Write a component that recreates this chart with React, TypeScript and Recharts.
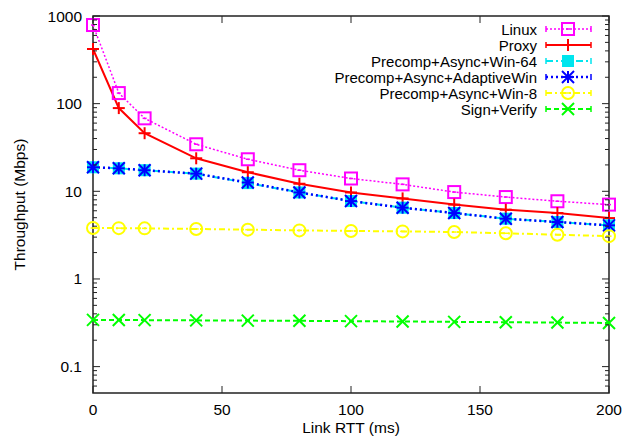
import React from "react";
import { LineChart, Line, XAxis, YAxis, Legend, ReferenceArea } from "recharts";

// link RTT (ms) and throughput (Mbps)
const rtt = [0, 10, 20, 40, 60, 80, 100, 120, 140, 160, 180, 200];
const linux = [789, 132, 68, 34.4, 23.2, 17.4, 14.0, 12.0, 9.8, 8.6, 7.7, 7.05];
const proxy = [420, 89, 46, 23.8, 16.5, 12.2, 9.7, 8.3, 7.05, 6.17, 5.65, 4.95];
const win64 = [18.8, 18.3, 17.4, 15.9, 12.4, 9.7, 7.74, 6.5, 5.65, 4.87, 4.46, 4.09];
const adaptive = [18.8, 18.3, 17.4, 15.9, 12.6, 9.7, 7.74, 6.5, 5.65, 4.87, 4.46, 4.09];
const win8 = [3.81, 3.8, 3.78, 3.72, 3.65, 3.58, 3.53, 3.49, 3.43, 3.32, 3.2, 3.08];
const signVerify = [0.341, 0.34, 0.339, 0.337, 0.335, 0.333, 0.33, 0.327, 0.324, 0.321, 0.318, 0.315];

const xTicks = [0, 50, 100, 150, 200];
const yMajor = [0.1, 1, 10, 100, 1000];
const yMajorLabels = ["0.1", "1", "10", "100", "1000"];
const yMinor = [
  0.06, 0.07, 0.08, 0.09,
  0.2, 0.3, 0.4, 0.5, 0.6, 0.7, 0.8, 0.9,
  2, 3, 4, 5, 6, 7, 8, 9,
  20, 30, 40, 50, 60, 70, 80, 90,
  200, 300, 400, 500, 600, 700, 800, 900,
];

const data = rtt.map((r, i) => ({
  rtt: r,
  linux: linux[i],
  proxy: proxy[i],
  win64: win64[i],
  adaptive: adaptive[i],
  win8: win8[i],
  sign: signVerify[i],
}));

type Shape = "box" | "plus" | "fbox" | "star" | "circle" | "cross";

const series: { key: string; name: string; color: string; dash?: string; width: number; shape: Shape }[] = [
  { key: "linux", name: "Linux", color: "#ff00ff", dash: "2 2", width: 1.5, shape: "box" },
  { key: "proxy", name: "Proxy", color: "#ff0000", width: 2, shape: "plus" },
  { key: "win64", name: "Precomp+Async+Win-64", color: "#00e5ee", dash: "7 3 2 3", width: 2, shape: "fbox" },
  { key: "adaptive", name: "Precomp+Async+AdaptiveWin", color: "#0000ff", dash: "2 3", width: 2.5, shape: "star" },
  { key: "win8", name: "Precomp+Async+Win-8", color: "#ffff00", dash: "6 3 2 3", width: 2, shape: "circle" },
  { key: "sign", name: "Sign+Verify", color: "#00ff00", dash: "5 3", width: 2, shape: "cross" },
];

const W = 625;
const H = 442;
const PL = 93;
const PR = 609;
const PT = 16;
const PB = 393;
const FONT = "'Liberation Sans', Arial, Helvetica, sans-serif";
const FS = 15.5;
const LEGEND_FS = 15;

function Marker({ shape, cx, cy, color }: { shape: Shape; cx: number; cy: number; color: string }) {
  const s = 6;
  switch (shape) {
    case "box":
      return (
        <g>
          <rect x={cx - s} y={cy - s} width={2 * s} height={2 * s} fill="none" stroke={color} strokeWidth={2} />
          <line x1={cx - 2} x2={cx + 2} y1={cy} y2={cy} stroke={color} strokeWidth={1.5} />
        </g>
      );
    case "fbox":
      return <rect x={cx - s} y={cy - s} width={2 * s} height={2 * s} fill={color} />;
    case "plus":
      return (
        <g stroke={color} strokeWidth={2}>
          <line x1={cx - s} x2={cx + s} y1={cy} y2={cy} />
          <line x1={cx} x2={cx} y1={cy - s} y2={cy + s} />
        </g>
      );
    case "star":
      return (
        <g stroke={color} strokeWidth={2}>
          <line x1={cx - s} x2={cx + s} y1={cy} y2={cy} />
          <line x1={cx} x2={cx} y1={cy - s} y2={cy + s} />
          <line x1={cx - s} x2={cx + s} y1={cy - s} y2={cy + s} />
          <line x1={cx - s} x2={cx + s} y1={cy + s} y2={cy - s} />
        </g>
      );
    case "circle":
      return (
        <g>
          <circle cx={cx} cy={cy} r={s} fill="none" stroke={color} strokeWidth={2} />
          <line x1={cx - 2.5} x2={cx + 2.5} y1={cy} y2={cy} stroke={color} strokeWidth={1.5} />
        </g>
      );
    default:
      return (
        <g stroke={color} strokeWidth={2}>
          <line x1={cx - s} x2={cx + s} y1={cy - s} y2={cy + s} />
          <line x1={cx - s} x2={cx + s} y1={cy + s} y2={cy - s} />
        </g>
      );
  }
}

function XTick({ x, payload }: any) {
  return (
    <g>
      <line x1={x} x2={x} y1={PB} y2={PB - 7} stroke="#222" />
      <line x1={x} x2={x} y1={PT} y2={PT + 7} stroke="#222" />
      <text x={x} y={PB + 22} textAnchor="middle" fontSize={FS} fontFamily={FONT} fill="#000">
        {payload.value}
      </text>
    </g>
  );
}

function YTick({ y, payload }: any) {
  const idx = yMajor.indexOf(payload.value);
  const len = idx >= 0 ? 7 : 4;
  return (
    <g>
      <line x1={PL} x2={PL + len} y1={y} y2={y} stroke="#222" />
      <line x1={PR} x2={PR - len} y1={y} y2={y} stroke="#222" />
      {idx >= 0 && (
        <text x={PL - 11} y={y + 5.5} textAnchor="end" fontSize={FS} fontFamily={FONT} fill="#000">
          {yMajorLabels[idx]}
        </text>
      )}
    </g>
  );
}

function LegendBox() {
  const x0 = 546;
  const x1 = 591;
  const rows = [29, 45, 61, 77, 93, 109];
  return (
    <svg width={W} height={122} style={{ display: "block" }}>
      {series.map((s, i) => {
        const y = rows[i];
        return (
          <g key={s.key}>
            <text x={537} y={y + 5.5} textAnchor="end" fontSize={LEGEND_FS} fontFamily={FONT} fill="#000">
              {s.name}
            </text>
            <line x1={x0} x2={x1} y1={y} y2={y} stroke={s.color} strokeWidth={s.width} strokeDasharray={s.dash} />
            <line x1={x0} x2={x0} y1={y - 3} y2={y + 3} stroke={s.color} strokeWidth={1.5} />
            <line x1={x1} x2={x1} y1={y - 3} y2={y + 3} stroke={s.color} strokeWidth={1.5} />
            <Marker shape={s.shape} cx={568} cy={y} color={s.color} />
          </g>
        );
      })}
    </svg>
  );
}

export default function App() {
  return (
    <div style={{ position: "absolute", left: 0, top: 0, width: W, height: H, background: "#fff" }}>
      <LineChart width={W} height={H} data={data} margin={{ top: PT, right: W - PR, bottom: 0, left: 0 }}>
        <XAxis
          dataKey="rtt"
          type="number"
          domain={[0, 200]}
          ticks={xTicks}
          interval={0}
          height={H - PB}
          axisLine={false}
          tickLine={false}
          tick={<XTick />}
          label={{
            content: ({ viewBox }: any) => (
              <text x={viewBox.x + viewBox.width / 2} y={433} textAnchor="middle" fontSize={FS} fontFamily={FONT} fill="#000">
                Link RTT (ms)
              </text>
            ),
          }}
        />
        <YAxis
          scale="log"
          domain={[0.05, 1000]}
          allowDataOverflow
          ticks={[...yMajor, ...yMinor]}
          interval={0}
          width={PL}
          axisLine={false}
          tickLine={false}
          tick={<YTick />}
          label={{
            content: ({ viewBox }: any) => {
              const cy = viewBox.y + viewBox.height / 2;
              return (
                <text x={19} y={cy} transform={`rotate(-90 19 ${cy})`} textAnchor="middle" dominantBaseline="central" fontSize={FS} fontFamily={FONT} fill="#000">
                  Throughput (Mbps)
                </text>
              );
            },
          }}
        />
        <ReferenceArea x1={0} x2={200} y1={0.05} y2={1000} fill="none" stroke="#222" strokeWidth={1.5} />
        {series.map((s) => (
          <Line
            key={s.key}
            dataKey={s.key}
            name={s.name}
            type="linear"
            stroke={s.color}
            strokeWidth={s.width}
            strokeDasharray={s.dash}
            isAnimationActive={false}
            dot={(p: any) => <Marker key={`${s.key}-${p.index}`} shape={s.shape} cx={p.cx} cy={p.cy} color={s.color} />}
            activeDot={false}
          />
        ))}
        <Legend
          layout="vertical"
          align="center"
          verticalAlign="middle"
          wrapperStyle={{ top: 0, left: 0, width: W, height: 122 }}
          content={() => <LegendBox />}
        />
      </LineChart>
    </div>
  );
}
